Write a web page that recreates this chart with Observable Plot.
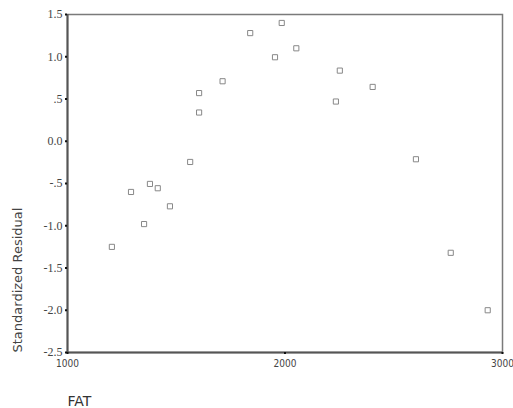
<!DOCTYPE html>
<html>
<head>
<meta charset="utf-8">
<script src="https://cdn.jsdelivr.net/npm/d3@7"></script>
<script src="https://cdn.jsdelivr.net/npm/@observablehq/plot@0.6"></script>
<style>
  html, body { margin: 0; padding: 0; background: #fff; }
  #chart svg { display: block; }
</style>
</head>
<body>
<div id="chart"></div>
<script>
// FAT against standardized residuals
const fat = [1204, 1292, 1352, 1379, 1415, 1471, 1564, 1605, 1605, 1713,
             1840, 1985, 1954, 2052, 2252, 2403, 2234, 2602, 2762, 2932];
const residual = [-1.25, -0.60, -0.98, -0.505, -0.556, -0.77, -0.245, 0.57, 0.34, 0.71,
                  1.28, 1.40, 0.994, 1.10, 0.836, 0.643, 0.47, -0.213, -1.32, -2.00];

const xTicks = [1000, 2000, 3000];
const xTickLabels = ["1000", "2000", "3000"];
const yTicks = [1.5, 1.0, 0.5, 0.0, -0.5, -1.0, -1.5, -2.0, -2.5];
const yTickLabels = ["1.5", "1.0", ".5", "0.0", "-.5", "-1.0", "-1.5", "-2.0", "-2.5"];

const xTitle = "FAT";
const yTitle = "Standardized Residual";

const points = fat.map((x, i) => ({x, y: residual[i]}));

const chart = Plot.plot({
  width: 513,
  height: 408,
  marginLeft: 67,
  marginRight: 11,
  marginTop: 14,
  marginBottom: 56,
  style: {background: "#fff", overflow: "visible"},
  x: {domain: [1000, 3000]},
  y: {domain: [-2.5, 1.5]},
  marks: [
    Plot.frame({stroke: "#7a7a7a", strokeWidth: 1.5}),
    Plot.ruleX([1000], {stroke: "#555", strokeWidth: 2}),
    Plot.ruleY([-2.5], {stroke: "#555", strokeWidth: 2}),
    Plot.axisY({
      ticks: yTicks,
      tickFormat: d => yTickLabels[yTicks.indexOf(d)],
      tickSize: 2,
      tickPadding: 3,
      stroke: "#111",
      strokeWidth: 2,
      label: null,
      fontFamily: "Liberation Serif",
      fontSize: 12,
      fill: "#444"
    }),
    Plot.axisX({
      ticks: xTicks,
      tickFormat: d => xTickLabels[xTicks.indexOf(d)],
      tickSize: 2,
      tickPadding: 5,
      stroke: "#111",
      strokeWidth: 2,
      fontFamily: "DejaVu Sans Condensed",
      fontSize: 10,
      letterSpacing: "-0.3px",
      fill: "#444",
      label: null
    }),
    // axis titles
    Plot.text([xTitle], {
      frameAnchor: "bottom-left",
      text: d => d,
      textAnchor: "start",
      lineAnchor: "bottom",
      dy: 53,
      fontFamily: "DejaVu Sans",
      fontSize: 14,
      fill: "#333"
    }),
    Plot.text([yTitle], {
      frameAnchor: "bottom-left",
      text: d => d,
      rotate: -90,
      textAnchor: "start",
      dx: -46,
      fontFamily: "DejaVu Sans",
      fontSize: 13,
      fill: "#444"
    }),
    Plot.dot(points, {
      x: "x",
      y: "y",
      symbol: "square",
      r: 2.9,
      stroke: "#888",
      strokeWidth: 1,
      fill: "#fff"
    })
  ]
});

document.getElementById("chart").append(chart);
</script>
</body>
</html>
